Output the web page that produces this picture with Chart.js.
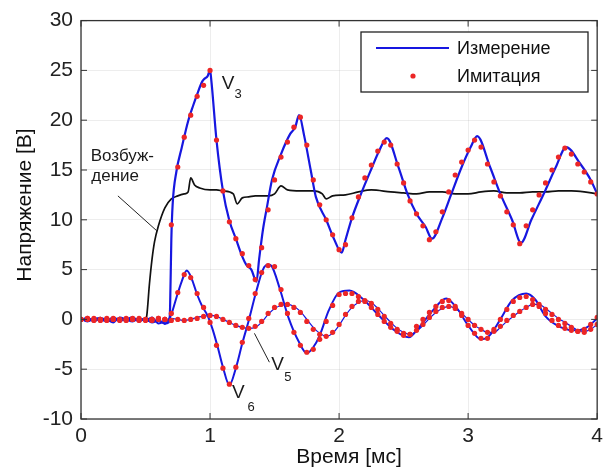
<!DOCTYPE html>
<html>
<head>
<meta charset="utf-8">
<script src="https://cdn.jsdelivr.net/npm/chart.js@4.4.1/dist/chart.umd.min.js"></script>
<style>
  body { margin: 0; background: #fff; }
  canvas { display: block; }
</style>
</head>
<body>
<canvas id="chart" width="608" height="471"></canvas>
<script>
// время, мс (шаг имитации)
const tSim = [0,0.05,0.1,0.15,0.2,0.25,0.3,0.35,0.4,0.45,0.5,0.55,0.6,0.65,0.7,0.75,0.8,0.85,0.9,0.95,
  1.0,1.05,1.1,1.15,1.2,1.25,1.3,1.35,1.4,1.45,1.5,1.55,1.6,1.65,1.7,1.75,1.8,1.85,1.9,1.95,
  2.0,2.05,2.1,2.15,2.2,2.25,2.3,2.35,2.4,2.45,2.5,2.55,2.6,2.65,2.7,2.75,2.8,2.85,2.9,2.95,
  3.0,3.05,3.1,3.15,3.2,3.25,3.3,3.35,3.4,3.45,3.5,3.55,3.6,3.65,3.7,3.75,3.8,3.85,3.9,3.95,4.0];

// имитация (красные точки)
const v3Sim = [0,0.1,0,-0.1,0,0.1,0,-0.1,0,0.1,0,-0.1,0,0,
  9.5,15.3,18.3,20.5,22.4,23.5,25.0,18.0,12.9,9.8,8.1,6.6,5.4,4.0,7.2,11.0,
  14.0,16.3,17.8,19.3,20.3,17.5,14.0,11.5,10.0,8.5,7.0,7.5,10.2,12.3,14.2,15.5,
  16.9,17.8,17.5,15.6,13.7,11.9,10.6,9.4,8.0,8.8,10.8,12.8,14.5,15.8,17.0,18.0,
  17.3,15.6,13.8,12.4,10.8,9.5,7.6,9.4,11.0,12.5,13.7,15.0,16.3,17.2,16.6,15.6,14.8,13.8,12.6];
const v6Sim = [0,0.1,-0.1,0,0.1,0,-0.1,0,0.1,0,-0.1,0,0.1,0,
  0.6,2.7,4.5,4.2,2.6,1.2,-0.3,-2.6,-4.9,-6.5,-4.8,-2.3,0.1,2.6,4.7,5.4,
  5.3,3.0,0.6,-1.3,-2.6,-3.3,-3.0,-2.0,-0.2,1.4,2.5,2.6,2.6,2.3,1.8,1.2,
  0.5,-0.2,-0.8,-1.2,-1.6,-1.5,-0.7,0.0,0.7,1.3,1.8,1.9,1.3,0.4,-0.6,-1.4,
  -1.9,-1.9,-1.0,0.0,1.0,1.8,2.2,2.3,2.0,1.3,0.6,-0.1,-0.6,-0.9,-1.1,-1.2,-1.0,-0.5,0.2];
const v5Sim = [0,0,0.1,0,-0.1,0,0,0.1,0,-0.1,0,0,0.1,0,-0.1,0,
  -0.1,0.0,0.1,0.3,0.4,0.3,0.0,-0.3,-0.6,-0.8,
  -0.9,-0.7,-0.2,0.6,1.2,1.5,1.5,1.2,0.7,-0.2,
  -1.0,-1.5,-1.7,-1.3,-0.5,0.5,1.3,1.8,1.9,1.6,
  1.0,0.3,-0.4,-1.0,-1.4,-1.5,-1.1,-0.5,0.2,0.8,
  1.2,1.3,1.1,0.6,0.0,-0.6,-1.0,-1.3,-1.2,-0.7,
  -0.1,0.4,0.8,1.2,1.5,1.5,1.0,0.5,0.0,-0.4,
  -0.8,-1.2,-1.3,-1.0,-0.5];

// измерение (синие линии)
const tV3 = [0,0.05,0.1,0.15,0.2,0.25,0.3,0.35,0.4,0.45,0.5,0.55,0.6,0.65,
  0.68,0.69,0.70,0.71,0.74,0.78,0.83,0.87,0.90,0.94,0.96,0.98,1.0,1.01,1.05,1.1,1.15,1.2,1.25,1.28,
  1.32,1.36,1.38,1.41,1.44,1.48,1.55,1.62,1.66,1.69,1.73,1.78,1.82,1.9,1.96,2.02,2.05,2.1,2.17,2.25,
  2.31,2.37,2.46,2.53,2.6,2.67,2.72,2.8,2.87,2.95,3.02,3.07,3.17,3.25,3.34,3.41,3.49,3.6,3.68,3.76,
  3.87,3.95,4.0];
const v3Meas = [0.1,-0.2,0.1,0,-0.2,0.2,-0.1,0,0.2,-0.2,0.1,-0.3,-0.1,-0.4,
  -0.3,1,8,11.5,14.9,17.2,19.9,21.5,22.6,23.9,24.2,24.4,25,24.0,18.0,12.9,9.9,8.1,6.3,5.5,
  5.0,3.8,6,9,11.2,14.0,16.6,18.6,19.3,20.5,18.4,15.0,12.3,10.0,8.1,6.7,8.0,10.2,12.6,15.1,
  16.9,18.2,15.3,12.6,10.6,9.3,8.1,10.2,12.6,15.3,17.3,18.4,15.3,12.6,10.0,7.7,10.0,13.0,15.3,17.3,
  15.6,14.0,12.6];
const tV6 = [0,0.05,0.1,0.15,0.2,0.25,0.3,0.35,0.4,0.45,0.5,0.55,0.6,0.65,
  0.68,0.70,0.74,0.78,0.82,0.86,0.90,0.94,0.98,1.02,1.06,1.10,1.15,1.20,1.25,1.30,1.36,1.41,1.45,1.48,
  1.54,1.61,1.69,1.75,1.80,1.85,1.92,2.00,2.08,2.18,2.30,2.42,2.54,2.62,2.72,2.83,2.92,3.00,3.10,3.16,
  3.25,3.34,3.45,3.52,3.60,3.72,3.83,3.92,4.00];
const v6Meas = [-0.1,0.2,-0.2,0.1,0,-0.3,0.2,0,-0.2,0.1,-0.1,0.2,-0.4,-0.2,
  0,0.5,2.2,3.8,4.9,4.0,2.5,1.3,0.4,-1.0,-2.8,-4.8,-6.6,-4.9,-2.4,-0.1,2.9,5.0,5.5,5.3,
  3.1,0.1,-2.3,-3.4,-2.8,-1.6,0.9,2.7,2.9,2.1,0.5,-1.0,-1.8,-0.8,0.8,2.1,1.0,-0.6,-2.0,-1.7,
  0.0,1.9,2.6,2.0,0.3,-0.8,-1.1,-0.8,0.1];
const v5Meas = [0.1,-0.2,0,0.2,-0.1,0,0.1,-0.2,0.1,0,-0.1,-0.3,0,-0.5,0.1,0,
  -0.1,0.0,0.2,0.3,0.4,0.3,0.0,-0.3,-0.6,-0.8,
  -0.9,-0.8,-0.3,0.5,1.1,1.4,1.5,1.3,0.8,0.0,
  -0.8,-1.4,-1.7,-1.4,-0.6,0.4,1.2,1.7,1.9,1.7,
  1.1,0.4,-0.3,-0.9,-1.3,-1.5,-1.2,-0.6,0.1,0.7,
  1.1,1.3,1.1,0.6,0.0,-0.6,-1.0,-1.3,-1.3,-0.8,
  -0.2,0.3,0.8,1.2,1.5,1.5,1.1,0.6,0.1,-0.3,
  -0.7,-1.1,-1.2,-1.0,-0.5];

// возбуждение (чёрная линия)
const tExc = [0,0.1,0.2,0.3,0.4,0.5,0.51,0.53,0.55,0.57,0.6,0.65,0.7,0.75,0.8,0.83,0.85,0.88,0.92,1.0,
  1.05,1.1,1.18,1.21,1.25,1.3,1.35,1.45,1.5,1.55,1.6,1.7,1.8,1.87,1.9,1.95,2.05,2.15,2.25,2.4,
  2.5,2.6,2.7,2.8,2.9,3.0,3.1,3.2,3.3,3.4,3.5,3.6,3.7,3.8,3.9,4.0];
const vExc = [0,0,0,0,0,0,0.4,3.5,6.0,7.8,9.4,11.2,12.1,12.4,12.6,12.8,14.2,13.5,13.2,13.0,
  13.0,12.9,12.6,11.6,12.2,12.3,12.4,12.4,12.6,13.4,13.0,12.9,12.9,12.6,12.1,12.4,12.5,12.8,13.0,12.8,
  12.7,12.6,12.8,12.8,12.6,12.6,12.8,12.9,12.7,12.7,12.8,12.8,12.9,12.9,12.8,12.6];

const xTicks = [0, 1, 2, 3, 4];
const yTicks = [-10, -5, 0, 5, 10, 15, 20, 25, 30];
const legendLabels = ['Измерение', 'Имитация'];
const xTitle = 'Время [мс]';
const yTitle = 'Напряжение [В]';

const FONT = '"Liberation Sans", Arial, sans-serif';
const BLUE = '#1717e0';
const RED = 'rgb(236,38,38)';

function pts(t, v) { return t.map((x, i) => ({ x: x, y: v[i] })); }

// подписи на графике (в координатах данных)
const notes = [
  { text: 'Возбуж-', x: 0.075, y: 16.4, size: 17 },
  { text: 'дение', x: 0.08, y: 14.4, size: 17 },
  { text: 'V', x: 1.09, y: 23.7, size: 19 },
  { text: '3', x: 1.19, y: 22.6, size: 13 },
  { text: 'V', x: 1.17, y: -7.4, size: 19 },
  { text: '6', x: 1.29, y: -8.8, size: 13 },
  { text: 'V', x: 1.475, y: -4.6, size: 19 },
  { text: '5', x: 1.575, y: -5.8, size: 13 }
];
const pointers = [
  [[0.286, 12.4], [0.587, 8.9]],
  [[1.344, -1.4], [1.46, -4.3]]
];

const frame = {
  id: 'frame',
  afterDraw(chart) {
    const ctx = chart.ctx, a = chart.chartArea;
    const xs = chart.scales.x, ys = chart.scales.y;
    ctx.save();
    // рамка и внутренние засечки
    ctx.strokeStyle = '#333';
    ctx.lineWidth = 1.3;
    ctx.strokeRect(a.left, a.top, a.right - a.left, a.bottom - a.top);
    ctx.lineWidth = 1;
    ctx.beginPath();
    xTicks.forEach(v => {
      const p = xs.getPixelForValue(v);
      ctx.moveTo(p, a.bottom); ctx.lineTo(p, a.bottom - 6);
      ctx.moveTo(p, a.top); ctx.lineTo(p, a.top + 6);
    });
    yTicks.forEach(v => {
      const p = ys.getPixelForValue(v);
      ctx.moveTo(a.left, p); ctx.lineTo(a.left + 6, p);
      ctx.moveTo(a.right, p); ctx.lineTo(a.right - 6, p);
    });
    ctx.stroke();

    // указатели и подписи
    ctx.strokeStyle = '#222';
    ctx.lineWidth = 1;
    pointers.forEach(l => {
      ctx.beginPath();
      ctx.moveTo(xs.getPixelForValue(l[0][0]), ys.getPixelForValue(l[0][1]));
      ctx.lineTo(xs.getPixelForValue(l[1][0]), ys.getPixelForValue(l[1][1]));
      ctx.stroke();
    });
    ctx.fillStyle = '#1a1a1a';
    ctx.textAlign = 'left';
    ctx.textBaseline = 'middle';
    notes.forEach(n => {
      ctx.font = n.size + 'px ' + FONT;
      ctx.fillText(n.text, xs.getPixelForValue(n.x), ys.getPixelForValue(n.y));
    });

    // легенда
    const lx = 361, ly = 32, lw = 227, lh = 60;
    ctx.fillStyle = '#fff';
    ctx.fillRect(lx, ly, lw, lh);
    ctx.strokeStyle = '#222';
    ctx.lineWidth = 1.3;
    ctx.strokeRect(lx, ly, lw, lh);
    ctx.strokeStyle = BLUE;
    ctx.lineWidth = 2;
    ctx.beginPath();
    ctx.moveTo(lx + 15, ly + 16); ctx.lineTo(lx + 88, ly + 16);
    ctx.stroke();
    ctx.fillStyle = RED;
    ctx.beginPath();
    ctx.arc(lx + 52, ly + 44, 2.6, 0, Math.PI * 2);
    ctx.fill();
    ctx.fillStyle = '#111';
    ctx.font = '18px ' + FONT;
    ctx.fillText(legendLabels[0], lx + 96, ly + 17);
    ctx.fillText(legendLabels[1], lx + 96, ly + 45);

    // подписи осей
    ctx.font = '21px ' + FONT;
    ctx.textAlign = 'center';
    ctx.fillText(xTitle, 349, 457);
    ctx.translate(25, 205);
    ctx.rotate(-Math.PI / 2);
    ctx.fillText(yTitle, 0, 0);
    ctx.restore();
  }
};

const lineOpts = { showLine: true, pointRadius: 0, fill: false, cubicInterpolationMode: 'monotone' };
const dotOpts = { showLine: false, pointRadius: 2.6, pointBorderWidth: 0, pointBackgroundColor: RED, pointBorderColor: RED };

new Chart(document.getElementById('chart'), {
  type: 'scatter',
  data: {
    datasets: [
      Object.assign({ label: 'V3 sim', data: pts(tSim, v3Sim), order: 0 }, dotOpts),
      Object.assign({ label: 'V6 sim', data: pts(tSim, v6Sim), order: 0 }, dotOpts),
      Object.assign({ label: 'V5 sim', data: pts(tSim, v5Sim), order: 0 }, dotOpts),
      Object.assign({ label: 'V3', data: pts(tV3, v3Meas), borderColor: BLUE, borderWidth: 2.2, order: 1 }, lineOpts),
      Object.assign({ label: 'V6', data: pts(tV6, v6Meas), borderColor: BLUE, borderWidth: 2, order: 1 }, lineOpts),
      Object.assign({ label: 'V5', data: pts(tSim, v5Meas), borderColor: BLUE, borderWidth: 1.2, order: 1 }, lineOpts),
      Object.assign({ label: 'Возбуждение', data: pts(tExc, vExc), borderColor: '#111', borderWidth: 1.7, order: 2 }, lineOpts)
    ]
  },
  options: {
    responsive: false,
    animation: false,
    devicePixelRatio: 1,
    layout: { padding: { top: 19, right: 8, left: 0, bottom: 0 } },
    plugins: { legend: { display: false }, tooltip: { enabled: false } },
    scales: {
      x: {
        type: 'linear', min: 0, max: 4,
        afterBuildTicks: s => { s.ticks = xTicks.map(v => ({ value: v })); },
        afterFit: s => { s.height = 52; },
        ticks: { font: { size: 21, family: FONT }, color: '#222', padding: 5, maxRotation: 0 },
        grid: { color: 'rgba(0,0,0,0.07)', drawTicks: false },
        border: { display: false }
      },
      y: {
        min: -10, max: 30,
        afterBuildTicks: s => { s.ticks = yTicks.map(v => ({ value: v })); },
        afterFit: s => { s.width = 81; },
        ticks: { font: { size: 21, family: FONT }, color: '#222', padding: 8 },
        grid: { color: 'rgba(0,0,0,0.07)', drawTicks: false },
        border: { display: false }
      }
    }
  },
  plugins: [frame]
});
</script>
</body>
</html>
